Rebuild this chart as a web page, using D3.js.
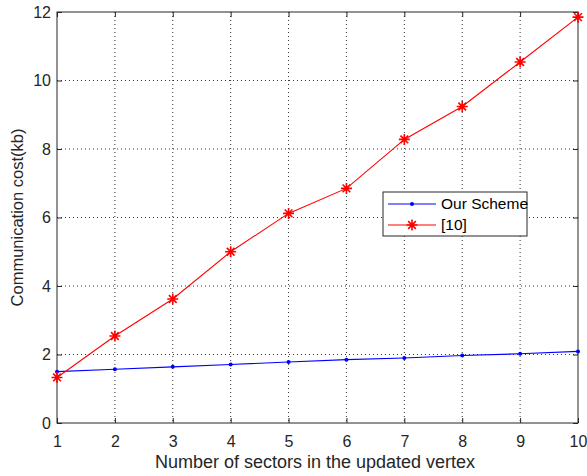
<!DOCTYPE html>
<html>
<head>
<meta charset="utf-8">
<script src="https://cdn.jsdelivr.net/npm/d3@7"></script>
<style>
  html, body { margin: 0; padding: 0; background: #fff; }
  svg { display: block; font-family: "Liberation Sans", Arial, Helvetica, sans-serif; }
</style>
</head>
<body>
<svg id="chart" width="587" height="476"></svg>
<script>
// Chart data
var sectors = [1, 2, 3, 4, 5, 6, 7, 8, 9, 10];
var ourScheme = [1.50, 1.57, 1.64, 1.71, 1.78, 1.85, 1.90, 1.97, 2.02, 2.09];
var ref10 = [1.33, 2.54, 3.62, 5.00, 6.12, 6.85, 8.28, 9.24, 10.54, 11.85];
var yTicks = [0, 2, 4, 6, 8, 10, 12];
var seriesNames = ['Our Scheme', '[10]'];

(function () {
  'use strict';

  var svg = d3.select('#chart');
  var margin = { left: 57, right: 9, top: 12, bottom: 53 };
  var width = 587 - margin.left - margin.right;
  var height = 476 - margin.top - margin.bottom;

  var x = d3.scaleLinear().domain([1, 10]).range([0, width]);
  var y = d3.scaleLinear().domain([0, 12]).range([height, 0]);

  var g = svg.append('g')
    .attr('transform', 'translate(' + margin.left + ',' + margin.top + ')');

  // Grid
  var grid = g.append('g').attr('class', 'grid');
  grid.selectAll('line.vx')
    .data(sectors.slice(1, -1))
    .join('line')
    .attr('x1', function (d) { return x(d); })
    .attr('x2', function (d) { return x(d); })
    .attr('y1', 0).attr('y2', height)
    .attr('stroke', '#333').attr('stroke-width', 1)
    .attr('stroke-dasharray', '1,3');
  grid.selectAll('line.hy')
    .data(yTicks.slice(1, -1))
    .join('line')
    .attr('y1', function (d) { return y(d); })
    .attr('y2', function (d) { return y(d); })
    .attr('x1', 0).attr('x2', width)
    .attr('stroke', '#333').attr('stroke-width', 1)
    .attr('stroke-dasharray', '1,3');

  // Axes with inward ticks, MATLAB style
  function styleAxis(sel) {
    sel.attr('font-size', 16).attr('font-family', '"Liberation Sans", Arial, sans-serif');
    sel.select('.domain').remove();
    sel.selectAll('.tick line').attr('stroke', '#262626');
    sel.selectAll('.tick text').attr('fill', '#262626');
  }

  g.append('g')
    .attr('transform', 'translate(0,' + height + ')')
    .call(d3.axisBottom(x).tickValues(sectors).tickFormat(d3.format('d')).tickSizeInner(-5).tickPadding(13))
    .call(styleAxis);
  g.append('g')
    .call(d3.axisTop(x).tickValues(sectors).tickSizeInner(-5).tickFormat(''))
    .call(styleAxis);
  g.append('g')
    .call(d3.axisLeft(y).tickValues(yTicks).tickFormat(d3.format('d')).tickSizeInner(-5).tickPadding(6))
    .call(styleAxis);
  g.append('g')
    .attr('transform', 'translate(' + width + ',0)')
    .call(d3.axisRight(y).tickValues(yTicks).tickSizeInner(-5).tickFormat(''))
    .call(styleAxis);

  // Box
  g.append('rect')
    .attr('x', 0).attr('y', 0)
    .attr('width', width).attr('height', height)
    .attr('fill', 'none')
    .attr('stroke', '#262626').attr('stroke-width', 1);

  var line = d3.line()
    .x(function (d, i) { return x(sectors[i]); })
    .y(function (d) { return y(d); });

  function asterisk(sel, size) {
    var s = size / 2;
    var d = 'M' + (-s) + ',0L' + s + ',0' +
      'M0,' + (-s) + 'L0,' + s +
      'M' + (-s * 0.7) + ',' + (-s * 0.7) + 'L' + (s * 0.7) + ',' + (s * 0.7) +
      'M' + (-s * 0.7) + ',' + (s * 0.7) + 'L' + (s * 0.7) + ',' + (-s * 0.7);
    sel.append('path').attr('d', d).attr('stroke', '#ff0000').attr('stroke-width', 1.6).attr('fill', 'none');
  }

  // Our scheme
  g.append('path')
    .datum(ourScheme)
    .attr('d', line)
    .attr('fill', 'none')
    .attr('stroke', '#0000ff')
    .attr('stroke-width', 1.1);
  g.selectAll('circle.our')
    .data(ourScheme)
    .join('circle')
    .attr('cx', function (d, i) { return x(sectors[i]); })
    .attr('cy', function (d) { return y(d); })
    .attr('r', 2)
    .attr('fill', '#0000ff');

  // [10]
  g.append('path')
    .datum(ref10)
    .attr('d', line)
    .attr('fill', 'none')
    .attr('stroke', '#ff0000')
    .attr('stroke-width', 1.1);
  g.selectAll('g.ref')
    .data(ref10)
    .join('g')
    .attr('transform', function (d, i) { return 'translate(' + x(sectors[i]) + ',' + y(d) + ')'; })
    .each(function () { asterisk(d3.select(this), 11); });

  // Axis labels
  svg.append('text')
    .attr('x', 315)
    .attr('y', 468)
    .attr('text-anchor', 'middle')
    .attr('fill', '#262626')
    .style('font-size', '18px')
    .text('Number of sectors in the updated vertex');
  svg.append('text')
    .attr('transform', 'translate(23,' + (margin.top + height / 2) + ') rotate(-90)')
    .attr('text-anchor', 'middle')
    .attr('fill', '#262626')
    .style('font-size', '16.5px')
    .text('Communication cost(kb)');

  // Legend
  var lg = svg.append('g').attr('transform', 'translate(383,192)');
  lg.append('rect')
    .attr('width', 144).attr('height', 44)
    .attr('fill', '#fff')
    .attr('stroke', '#262626').attr('stroke-width', 1);
  var rows = lg.selectAll('g.row')
    .data(seriesNames)
    .join('g')
    .attr('transform', function (d, i) { return 'translate(0,' + (12 + i * 21) + ')'; });
  rows.append('line')
    .attr('x1', 5).attr('x2', 53)
    .attr('stroke', function (d, i) { return i === 0 ? '#0000ff' : '#ff0000'; })
    .attr('stroke-width', 1.1);
  rows.each(function (d, i) {
    var r = d3.select(this);
    if (i === 0) {
      r.append('circle').attr('cx', 29).attr('r', 2).attr('fill', '#0000ff');
    } else {
      var m = r.append('g').attr('transform', 'translate(29,0)');
      asterisk(m, 11);
    }
  });
  rows.append('text')
    .attr('x', 58)
    .attr('dy', '0.35em')
    .attr('fill', '#000')
    .style('font-size', '15.5px')
    .text(function (d) { return d; });
})();
</script>
</body>
</html>
